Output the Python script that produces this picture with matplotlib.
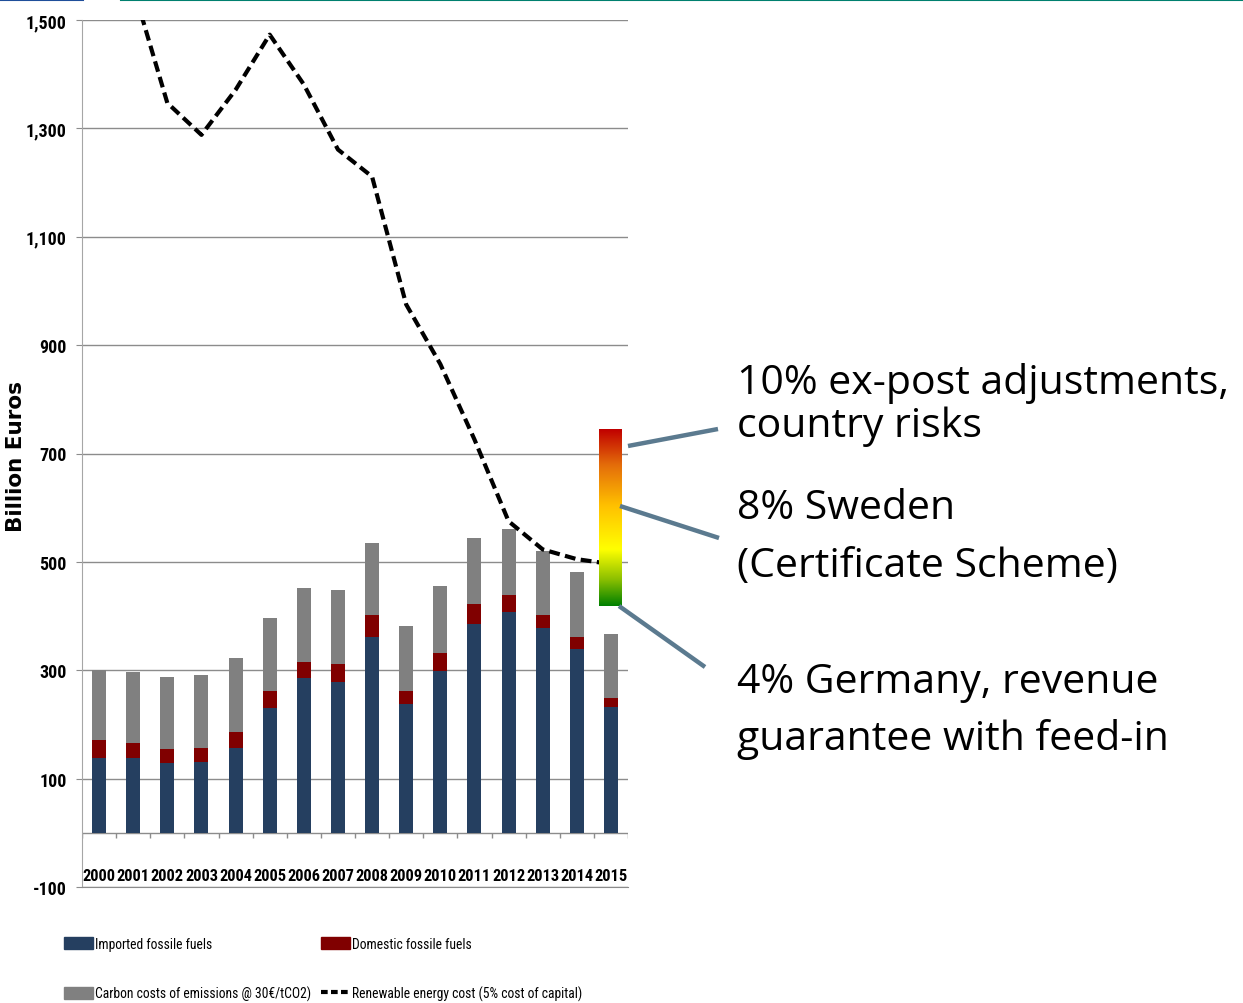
import numpy as np
import matplotlib
matplotlib.use("Agg")
import matplotlib.pyplot as plt
from matplotlib import font_manager as fm
from matplotlib.lines import Line2D
from matplotlib.patches import Patch
from matplotlib.colors import LinearSegmentedColormap

# data (billion euros)
years = list(range(2000, 2016))
imported = [138, 138, 128, 131, 157, 230, 285, 279, 362, 237, 299, 385, 407, 378, 339, 233]
domestic = [33, 28, 27, 26, 29, 31, 31, 33, 40, 24, 33, 37, 31, 24, 22, 16]
carbon = [130, 131, 133, 135, 137, 135, 135, 136, 133, 121, 124, 122, 122, 118, 121, 118]
renewable = [1640, 1560, 1347, 1288, 1371, 1473, 1381, 1261, 1211, 975, 865, 726, 575, 523, 505, 496]

yticks = list(range(-100, 1501, 200))
names = ["Imported fossile fuels", "Domestic fossile fuels",
         "Carbon costs of emissions @ 30€/tCO2)", "Renewable energy cost (5% cost of capital)"]
notes = [["10% ex-post adjustments,", "country risks"],
         ["8% Sweden", "(Certificate Scheme)"],
         ["4% Germany, revenue", "guarantee with feed-in"]]

c_imp = "#253f60"
c_dom = "#800000"
c_carb = "#808080"

# pick a narrow face for the axis / legend text if one is around
found = {}
for f in fm.fontManager.ttflist:
    if "Narrow" in f.name or "Condensed" in f.name or f.stretch in ("condensed", "semi-condensed"):
        found.setdefault(f.name, f.stretch)
narrow_name, narrow_stretch, k = "DejaVu Sans", "normal", 0.78
for cand in ["Roboto Condensed", "Liberation Sans Narrow", "Open Sans Condensed", "DejaVu Sans"]:
    if cand in found:
        narrow_name, narrow_stretch, k = cand, found[cand], 1.0
        break
nf = dict(family=[narrow_name, "DejaVu Sans"], fontstretch=narrow_stretch)

W, H = 1243, 1004
fig = plt.figure(figsize=(W / 100, H / 100), dpi=100)
ax = fig.add_axes([82 / W, 1 - 888 / H, 546 / W, 867 / H])

x = np.arange(len(years))
imp = np.array(imported)
dom = np.array(domestic)
ax.bar(x, imp, width=0.41, color=c_imp, zorder=3)
ax.bar(x, dom, width=0.41, bottom=imp, color=c_dom, zorder=3)
ax.bar(x, carbon, width=0.41, bottom=imp + dom, color=c_carb, zorder=3)
ax.plot(x, renewable, color="black", lw=3, dashes=(2.6, 1.3), zorder=4)

ax.set_xlim(-0.5, len(years) - 0.5)
ax.set_ylim(-100, 1500)
ax.set_yticks(yticks)
ax.set_yticklabels(["{:,}".format(v) for v in yticks], fontweight="bold",
                   fontsize=13 * k, **nf)
ax.set_xticks([])
ax.yaxis.grid(True, color="#8c8c8c", lw=1)
ax.set_axisbelow(True)
ax.tick_params(axis="y", length=4, color="#8c8c8c", pad=7)
for s in ["top", "right"]:
    ax.spines[s].set_visible(False)
ax.spines["left"].set_color("#a6a6a6")
ax.spines["bottom"].set_color("#8c8c8c")

# category axis drawn at zero
ax.axhline(0, color="#8c8c8c", lw=1, zorder=2)
ax.vlines(np.arange(-0.5, len(years)), -9, 0, color="#8c8c8c", lw=1)
for i, yr in enumerate(years):
    ax.text(i, -78, str(yr), ha="center", va="center", fontweight="bold",
            fontsize=11.8 * k, **nf)

fig.text(16 / W, 1 - 456 / H, "Billion Euros", rotation=90, ha="center",
         va="center", fontweight="bold", fontsize=15.5)

# legend, two columns
h_imp = Patch(color=c_imp)
h_dom = Patch(color=c_dom)
h_carb = Patch(color=c_carb)
h_ren = Line2D([], [], color="black", lw=3, dashes=(1.6, 0.8))
legend_font = fm.FontProperties(family=nf["family"], stretch=narrow_stretch, size=9.8 * k)
for hs, labs, x0 in [([h_imp, h_carb], [names[0], names[2]], 64),
                     ([h_dom, h_ren], [names[1], names[3]], 321)]:
    fig.legend(hs, labs, loc="upper left", bbox_to_anchor=(x0 / W, 1 - 938 / H),
               frameon=False, borderpad=0, borderaxespad=0, handlelength=2.1,
               handleheight=0.95, handletextpad=0.2, labelspacing=2.55,
               prop=legend_font)

# cost of capital scale
cax = fig.add_axes([599 / W, 1 - 607 / H, 23 / W, 177 / H])
cmap = LinearSegmentedColormap.from_list(
    "coc", [(0, "#c00000"), (0.2, "#e46c0a"), (0.43, "#ffc000"),
            (0.68, "#ffff00"), (0.85, "#8cc000"), (1, "#008000")])
cax.imshow(np.linspace(0, 1, 256).reshape(-1, 1), cmap=cmap, aspect="auto")
cax.axis("off")

for (x0, y0), (x1, y1) in [((628, 447), (718, 430)),
                           ((620, 507), (719, 539)),
                           ((619, 607), (705, 668))]:
    fig.add_artist(Line2D([x0 / W, x1 / W], [1 - y0 / H, 1 - y1 / H],
                          color="#5b7a8f", lw=3.2, solid_capstyle="butt"))

baselines = [(394, 437), (519, 577), (693, 750)]
for lines, ys in zip(notes, baselines):
    for t, yb in zip(lines, ys):
        fig.text(737 / W, 1 - yb / H, t, family=["Open Sans", "DejaVu Sans"],
                 fontsize=29.5, va="baseline", ha="left")

# header rules
fig.add_artist(Line2D([0, 83 / W], [0.999, 0.999], color="#1f4e9a", lw=1.5))
fig.add_artist(Line2D([121 / W, 1], [0.999, 0.999], color="#00806f", lw=1.5))

fig.savefig("out.png", dpi=100)
